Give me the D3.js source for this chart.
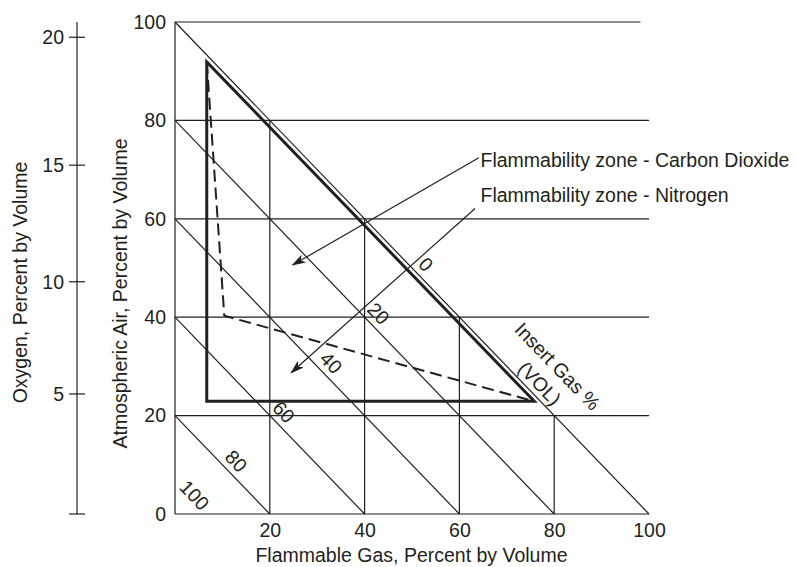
<!DOCTYPE html>
<html><head><meta charset="utf-8">
<script src="https://cdn.jsdelivr.net/npm/d3@7"></script>
<style>
body{margin:0;background:#fff}
text{font-family:"Liberation Sans",Arial,Helvetica,sans-serif;fill:#231f20;font-size:19.5px}
</style>
</head><body>
<svg id="c" width="796" height="567"></svg>
<script>
// ---- data ----
const gasTicks = [20, 40, 60, 80, 100];          // Flammable gas %
const airTicks = [0, 20, 40, 60, 80, 100];       // Atmospheric air %
const horizontalLevels = [20, 40, 60, 80, 100];
const verticalLevels = [20, 40, 60, 80];
const inertLevels = [0, 20, 40, 60, 80, 100];    // inert gas % diagonals
const oxygenTicks = [0, 5, 10, 15, 20];
const oxygenAirEquiv = [0, 24.4, 47.2, 70.9, 96.9]; // where each O2 tick sits on the air scale
const nitrogenZone = [[6.7, 91.9], [6.7, 22.9], [75.8, 22.9]];
const co2Zone = [[6.7, 91.9], [10.4, 40.3], [75.8, 22.9]];
const annotations = [
  {label: "Flammability zone - Carbon Dioxide", from: [64.1, 72.4], to: [24.8, 50.6], text: [64.45, 70.5]},
  {label: "Flammability zone - Nitrogen", from: [63.3, 62.1], to: [24.5, 28.7], text: [64.45, 63.4]}
];
const inertTitle = ["Insert Gas %", "(VOL)"];
const inertTitleAt = [80.7, 30.0];
const xTitle = "Flammable Gas, Percent by Volume";
const yTitle = "Atmospheric Air, Percent by Volume";
const o2Title = "Oxygen, Percent by Volume";

// ---- drawing ----
const ink = "#231f20";
const svg = d3.select("#c");
const x = d3.scaleLinear().domain([0, 100]).range([175, 649]);
const y = d3.scaleLinear().domain([0, 100]).range([514, 22]);
const o2 = d3.scaleLinear().domain(oxygenTicks).range(oxygenAirEquiv.map(y));
const o2X = 77;

const defs = svg.append("defs");
defs.append("marker").attr("id", "arr").attr("viewBox", "0 -5 14 10")
  .attr("refX", 13).attr("refY", 0).attr("markerWidth", 14).attr("markerHeight", 10)
  .attr("markerUnits", "userSpaceOnUse").attr("orient", "auto")
  .append("path").attr("d", "M0,-4.5L14,0L0,4.5L3.5,0Z").attr("fill", ink);

const grid = svg.append("g").attr("stroke", ink).attr("stroke-width", 1.2).attr("fill", "none");
// frame lines
grid.append("line").attr("x1", x(0)).attr("x2", x(0)).attr("y1", y(0)).attr("y2", y(100));
grid.append("line").attr("x1", x(0)).attr("x2", x(100)).attr("y1", y(0)).attr("y2", y(0));
grid.selectAll(".h").data(horizontalLevels).join("line")
  .attr("x1", x(0)).attr("x2", d => d === 100 ? x(98.2) : x(100)).attr("y1", d => y(d)).attr("y2", d => y(d));
grid.selectAll(".v").data(verticalLevels).join("line")
  .attr("x1", d => x(d)).attr("x2", d => x(d)).attr("y1", y(0)).attr("y2", d => y(100 - d));
grid.selectAll(".d").data(inertLevels.filter(g => g < 100)).join("line")
  .attr("x1", x(0)).attr("y1", d => y(100 - d)).attr("x2", d => x(100 - d)).attr("y2", y(0));

// zones
const line = d3.line().x(d => x(d[0])).y(d => y(d[1]));
svg.append("path").attr("d", line(nitrogenZone) + "Z").attr("fill", "none")
  .attr("stroke", ink).attr("stroke-width", 3).attr("stroke-linejoin", "miter");
svg.append("path").attr("d", line(co2Zone)).attr("fill", "none")
  .attr("stroke", ink).attr("stroke-width", 2).attr("stroke-dasharray", "12,6");

// annotations
svg.selectAll(".ann").data(annotations).join("line")
  .attr("x1", d => x(d.from[0])).attr("y1", d => y(d.from[1]))
  .attr("x2", d => x(d.to[0])).attr("y2", d => y(d.to[1]))
  .attr("stroke", ink).attr("stroke-width", 1.2).attr("marker-end", "url(#arr)");
svg.selectAll(".annt").data(annotations).join("text")
  .attr("x", d => x(d.text[0])).attr("y", d => y(d.text[1])).text(d => d.label);

// diagonal labels
const ddx = x(1) - x(0), ddy = y(0) - y(1);
const len = Math.hypot(ddx, ddy);
const ux = ddx / len, uy = ddy / len;       // along line (down-right)
const px = uy, py = -ux;                     // perpendicular (up-right)
const ang = Math.atan2(ddy, ddx) * 180 / Math.PI;
svg.selectAll(".dl").data(inertLevels).join("text")
  .attr("text-anchor", "middle").attr("dy", "0.35em")
  .attr("transform", g => {
    const m = (100 - g) / 2;
    const perp = g === 100 ? 27 : 12.5, along = g === 100 ? 0 : 7;
    const cx = x(m) + px * perp + ux * along, cy = y(m) + py * perp + uy * along;
    return `translate(${cx},${cy}) rotate(${ang})`;
  })
  .text(d => d);

// inert gas title
const it = svg.append("g").attr("transform", `translate(${x(inertTitleAt[0])},${y(inertTitleAt[1])}) rotate(${ang})`);
it.selectAll("text").data(inertTitle).join("text").attr("text-anchor", "middle")
  .attr("dy", "0.35em").attr("y", (d, i) => i * 24.7).text(d => d);

// main axes
const yAx = svg.append("g").attr("transform", `translate(${x(0)},0)`)
  .call(d3.axisLeft(y).tickValues(airTicks).tickSize(0).tickPadding(9));
const xAx = svg.append("g").attr("transform", `translate(0,${y(0)})`)
  .call(d3.axisBottom(x).tickValues(gasTicks).tickSize(0).tickPadding(9.5));
[yAx, xAx].forEach(a => {
  a.select(".domain").remove();
  a.selectAll("text").attr("font-size", null).style("font-size", "19.5px")
    .attr("font-family", null).attr("fill", ink);
});

// oxygen axis
const oa = svg.append("g").attr("stroke", ink).attr("stroke-width", 1.2);
oa.append("line").attr("x1", o2X).attr("x2", o2X).attr("y1", y(100)).attr("y2", y(0));
oa.selectAll(".ot").data(oxygenTicks).join("line")
  .attr("x1", o2X - 8).attr("x2", o2X + 8).attr("y1", d => o2(d)).attr("y2", d => o2(d));
svg.selectAll(".ol").data(oxygenTicks.filter(d => d > 0)).join("text")
  .attr("text-anchor", "end").attr("dy", "0.35em")
  .attr("x", o2X - 13).attr("y", d => o2(d)).text(d => d);

// titles
svg.append("text").attr("text-anchor", "middle").attr("x", 411.5).attr("y", 562).text(xTitle);
svg.append("text").attr("text-anchor", "middle")
  .attr("transform", "translate(127,293.5) rotate(-90)").text(yTitle);
svg.append("text").attr("text-anchor", "middle")
  .attr("transform", "translate(26.5,282.5) rotate(-90)").text(o2Title);
</script>
</body></html>
